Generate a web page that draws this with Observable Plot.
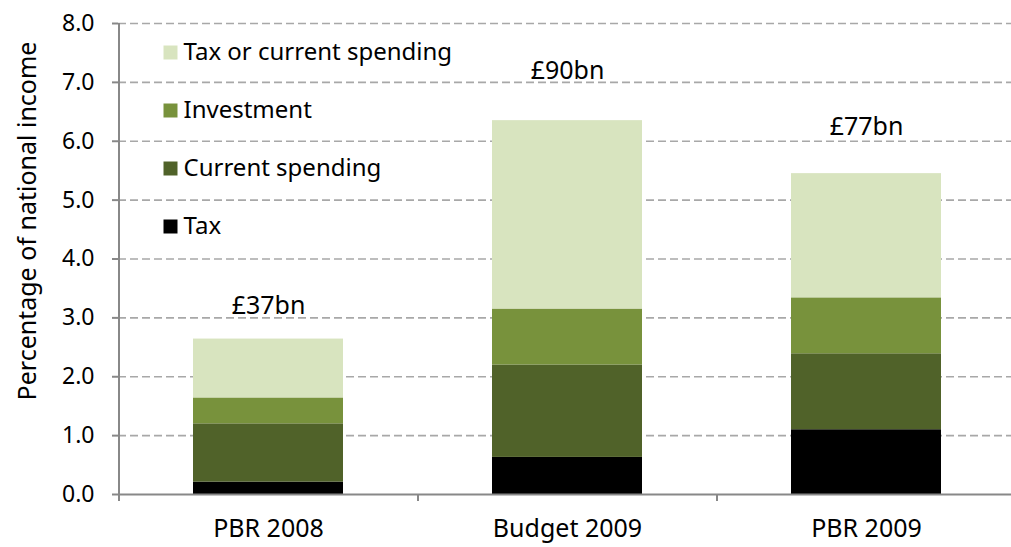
<!DOCTYPE html>
<html>
<head>
<meta charset="utf-8">
<script src="https://cdn.jsdelivr.net/npm/d3@7"></script>
<script src="https://cdn.jsdelivr.net/npm/@observablehq/plot@0.6"></script>
<style>
  html, body { margin: 0; padding: 0; background: #fff; }
  #chart { width: 1011px; height: 547px; }
  svg { font-family: "Noto Sans", sans-serif; }
</style>
</head>
<body>
<div id="chart"></div>
<script>
// ---- data ----
const categories = ["PBR 2008", "Budget 2009", "PBR 2009"];
const seriesNames = ["Tax", "Current spending", "Investment", "Tax or current spending"];
const tax = [0.21, 0.63, 1.10];
const currentSpending = [0.99, 1.57, 1.29];
const investment = [0.44, 0.95, 0.95];
const taxOrCurrent = [1.00, 3.20, 2.11];
const totalLabels = ["£37bn", "£90bn", "£77bn"];
const labelY = [3.21, 7.2, 6.25];
const yTicks = [0, 1, 2, 3, 4, 5, 6, 7, 8];
const colors = ["#000000", "#506229", "#78923c", "#d8e4bf"];

// ---- build table ----
const seriesValues = [tax, currentSpending, investment, taxOrCurrent];
const rows = [];
categories.forEach((c, i) => {
  seriesNames.forEach((s, j) => rows.push({category: c, series: s, value: seriesValues[j][i]}));
});
const labelRows = categories.map((c, i) => ({category: c, label: totalLabels[i], y: labelY[i]}));

const W = 1011, H = 547;
const mL = 118, mT = 23, mB = 53;
const legendOrder = [...seriesNames].reverse();
const legendMarks = legendOrder.flatMap((s, k) => {
  const dy = 29 + k * 58;
  return [
    Plot.dot([s], {frameAnchor: "top-left", dx: 52, dy, symbol: "square", r: 7.9,
      fill: colors[seriesNames.indexOf(s)], stroke: null}),
    Plot.text([s], {frameAnchor: "top-left", dx: 65, dy, text: d => d, textAnchor: "start",
      lineAnchor: "middle", fontSize: 24, fill: "#000"})
  ];
});

const chart = Plot.plot({
  width: W, height: H,
  marginLeft: mL, marginTop: mT, marginBottom: mB, marginRight: 0,
  style: {fontFamily: "'Noto Sans', sans-serif", color: "#000", background: "#fff"},
  x: {domain: categories, range: [mL, mL + 3 * 299], paddingInner: 0.5, paddingOuter: 0.25, label: null},
  y: {domain: [0, 8], label: null},
  color: {domain: seriesNames, range: colors},
  marks: [
    Plot.ruleY(yTicks.filter(d => d > 0), {stroke: "#a8a8a8", strokeWidth: 1.6, strokeDasharray: "8,4"}),
    Plot.barY(rows, {x: "category", y: "value", fill: "series", order: seriesNames, inset: 0}),
    Plot.ruleX(categories, {x: d => d, dx: -149.5, y1: -0.12, y2: 0, stroke: "#888", strokeWidth: 2}),
    Plot.ruleX([categories[0]], {x: d => d, dx: -149.5, y1: -0.1, y2: 8, stroke: "#888", strokeWidth: 2}),
    Plot.ruleY([0], {stroke: "#888", strokeWidth: 2}),
    Plot.axisY({ticks: yTicks, tickFormat: d3.format(".1f"), tickSize: 6, tickPadding: 18,
      fontSize: 23, stroke: "#888", strokeWidth: 2, label: null, fill: "#000"}),
    Plot.axisX({tickSize: 0, tickPadding: 25, fontSize: 25, label: null, fill: "#000"}),
    Plot.text(labelRows, {x: "category", y: "y", text: "label", fontSize: 25, fill: "#000"}),
    Plot.text(["Percentage of national income"], {frameAnchor: "left", dx: -91, dy: -38, rotate: -90,
      textAnchor: "middle", fontSize: 25, fill: "#000"}),
    ...legendMarks
  ]
});
document.getElementById("chart").appendChild(chart);
</script>
</body>
</html>
